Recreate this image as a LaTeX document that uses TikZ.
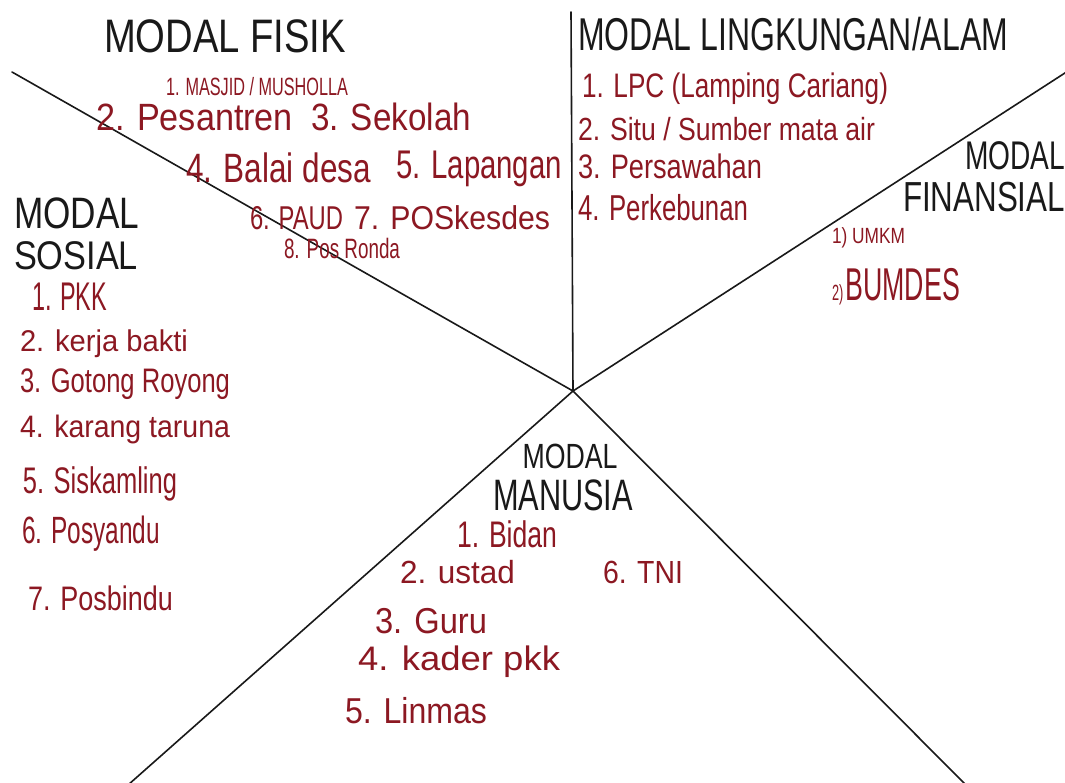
\documentclass[tikz,border=0pt]{standalone}
\usepackage{fontspec}
\setmainfont{Liberation Sans}
\usepackage{graphicx}
\definecolor{ink}{RGB}{140,24,34}
\definecolor{pen}{RGB}{25,25,25}
\newcommand\hw[3]{\resizebox{#1pt}{\height}{\fontsize{#2}{#2}\selectfont #3}}
\tikzset{
  txt/.style={inner sep=0pt, outer sep=0pt, anchor=base west},
  blk/.style={txt, text=pen},
  itm/.style={txt, text=ink},
  spoke/.style={draw=pen, line width=1.6pt, line cap=round}
}
\begin{document}
\begin{tikzpicture}[x=1pt,y=-1pt]
\fill[white] (0,0) rectangle (1065,782);
\useasboundingbox (0,0) rectangle (1065,782);

% spokes
\coordinate (c) at (573,391);
\coordinate (top) at (571,12);
\coordinate (ul) at (12,72);
\coordinate (ur) at (1068,71);
\coordinate (ll) at (128,785);
\coordinate (lr) at (966,785);
\draw[spoke] (c) -- (top);
\draw[spoke] (c) -- (ul);
\draw[spoke] (c) -- (ur);
\draw[spoke] (c) -- (ll);
\draw[spoke] (c) -- (lr);

% Modal Fisik
\node[blk] (fisik) at (104,52) {\hw{242}{47}{MODAL FISIK}};
\node[itm] (f1) at (166,95) {\hw{182}{25}{1. MASJID / MUSHOLLA}};
\node[itm] (f2) at (96,130) {\hw{197}{38}{2. Pesantren}};
\node[itm] (f3) at (311,130) {\hw{160}{38}{3. Sekolah}};
\node[itm] (f4) at (186,182) {\hw{185}{41}{4. Balai desa}};
\node[itm] (f5) at (396,178) {\hw{166}{40}{5. Lapangan}};
\node[itm] (f6) at (250,229) {\hw{93}{33}{6. PAUD}};
\node[itm] (f7) at (354,229) {\hw{196}{33}{7. POSkesdes}};
\node[itm] (f8) at (284,258) {\hw{116}{28}{8. Pos Ronda}};

% Modal Sosial
\node[blk] (sos1) at (14,228) {\hw{125}{44}{MODAL}};
\node[blk] (sos2) at (14,269) {\hw{124}{40}{SOSIAL}};
\node[itm] (s1) at (32,310) {\hw{75}{40}{1. PKK}};
\node[itm] (s2) at (20,351) {\hw{168}{30}{2. kerja bakti}};
\node[itm] (s3) at (20,392) {\hw{210}{34}{3. Gotong Royong}};
\node[itm] (s4) at (20,437) {\hw{210}{31}{4. karang taruna}};
\node[itm] (s5) at (23,493) {\hw{154}{37}{5. Siskamling}};
\node[itm] (s6) at (22,543) {\hw{138}{38}{6. Posyandu}};
\node[itm] (s7) at (28,610) {\hw{145}{34}{7. Posbindu}};

% Modal Lingkungan / Alam
\node[blk] (ling) at (578,50) {\hw{430}{46}{MODAL LINGKUNGAN/ALAM}};
\node[itm] (l1) at (582,97) {\hw{306}{34}{1. LPC (Lamping Cariang)}};
\node[itm] (l2) at (578,140) {\hw{297}{32}{2. Situ / Sumber mata air}};
\node[itm] (l3) at (578,178) {\hw{184}{34}{3. Persawahan}};
\node[itm] (l4) at (578,220) {\hw{170}{36}{4. Perkebunan}};

% Modal Finansial
\node[blk, anchor=base east] (fin1) at (1065,169) {\hw{100}{40}{MODAL}};
\node[blk, anchor=base east] (fin2) at (1065,211) {\hw{162}{42}{FINANSIAL}};
\node[itm] (n1) at (832,243) {\hw{73}{22}{1) UMKM}};
\node[itm] (n2) at (832,300) {\hw{128}{46}{{\fontsize{22}{22}\selectfont 2)\,}BUMDES}};

% Modal Manusia
\node[blk, anchor=base] (man1) at (570,468) {\hw{95}{35}{MODAL}};
\node[blk, anchor=base] (man2) at (563,510) {\hw{140}{44}{MANUSIA}};
\node[itm] (m1) at (457,547) {\hw{100}{37}{1. Bidan}};
\node[itm] (m2) at (400,583) {\hw{115}{32}{2. ustad}};
\node[itm] (m6) at (603,583) {\hw{80}{32}{6. TNI}};
\node[itm] (m3) at (375,633) {\hw{112}{36}{3. Guru}};
\node[itm] (m4) at (358,670) {\hw{202}{34}{4. kader pkk}};
\node[itm] (m5) at (345,723) {\hw{142}{36}{5. Linmas}};
\end{tikzpicture}
\end{document}
